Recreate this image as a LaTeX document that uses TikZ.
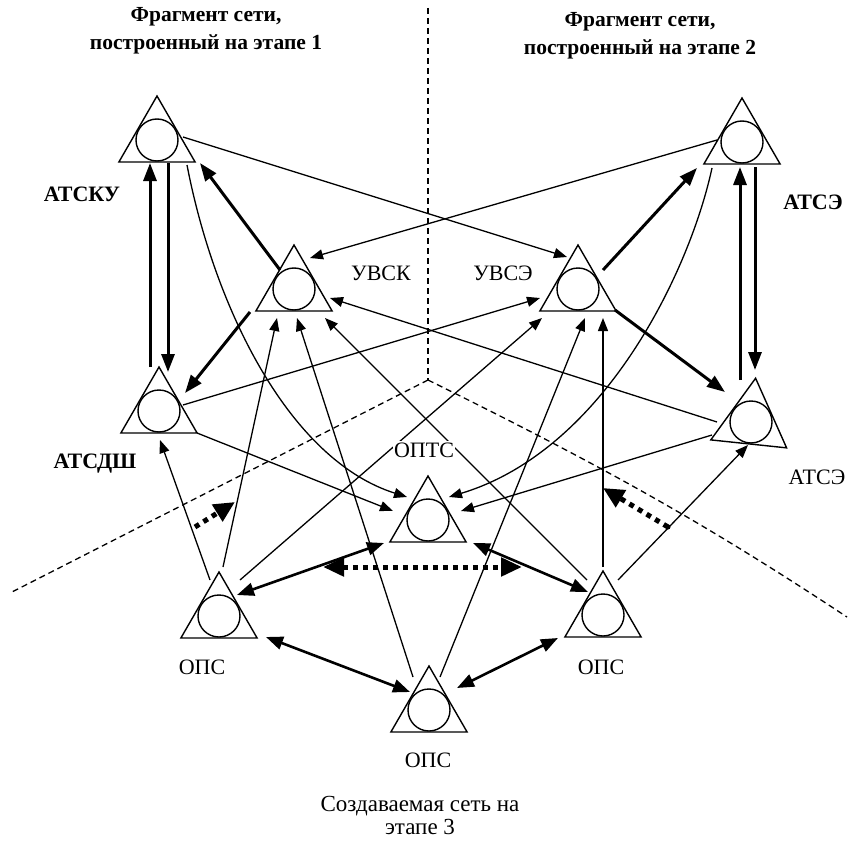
\documentclass[tikz,border=0pt]{standalone}
\usepackage{fontspec}
\setmainfont{Liberation Serif}
\usetikzlibrary{shapes.geometric,arrows.meta,calc}
\begin{document}
\begin{tikzpicture}[x=1pt,y=-1pt,
  station/.style={regular polygon, regular polygon sides=3, minimum size=88pt, inner sep=0pt, outer sep=0pt, draw, line width=1.4pt},
  ring/.style={circle, minimum size=42pt, inner sep=0pt, outer sep=0pt, draw, line width=1.4pt},
  thinarr/.style={line width=1.3pt, -{Triangle[length=13pt,width=10pt]}},
  thickarr/.style={line width=3pt, -{Triangle[length=18pt,width=13pt]}},
  boldtwo/.style={line width=2.6pt, {Triangle[length=17pt,width=13pt]}-{Triangle[length=17pt,width=13pt]}},
  dotarr/.style={line width=5pt, dash pattern=on 5pt off 5pt, -{Triangle[length=21pt,width=19pt]}},
  dottwo/.style={line width=5pt, dash pattern=on 5pt off 5pt, {Triangle[length=21pt,width=18pt]}-{Triangle[length=21pt,width=18pt]}},
  sepline/.style={line width=1.3pt, dash pattern=on 6pt off 4pt},
  lbl/.style={font=\fontsize{22}{26}\selectfont},
  blbl/.style={font=\bfseries\fontsize{22}{26}\selectfont},
  ttl/.style={align=center, font=\bfseries\fontsize{21.5}{28}\selectfont},
]
\useasboundingbox (0,0) rectangle (860,843);
\fill[white] (0,0) rectangle (860,843);

% separators
\coordinate (C) at (428,380);
\coordinate (Ctop) at (428,8);
\coordinate (Cleft) at (10,593);
\coordinate (Cright) at (847,617);
\draw[sepline] (Ctop) -- (C);
\draw[sepline] (C) -- (Cleft);
\draw[sepline] (C) .. controls (600,465) and (700,520) .. (Cright);

% stations
\node[station] (A1) at (157,140) {};
\node[ring] (A1c) at (A1) {};
\node[station] (A2) at (159,411) {};
\node[ring] (A2c) at (A2) {};
\node[station] (U1) at (294,289) {};
\node[ring] (U1c) at (U1) {};
\node[station] (U2) at (578,289) {};
\node[ring] (U2c) at (U2) {};
\node[station] (E1) at (742,142) {};
\node[ring] (E1c) at (E1) {};
\node[station, rotate=-6] (E2) at (751,422) {};
\node[ring] (E2c) at (E2) {};
\node[station] (O) at (428,520) {};
\node[ring] (Oc) at (O) {};
\node[station] (P1) at (219,616) {};
\node[ring] (P1c) at (P1) {};
\node[station] (P2) at (603,615) {};
\node[ring] (P2c) at (P2) {};
\node[station] (P3) at (429,710) {};
\node[ring] (P3c) at (P3) {};

% thick arrows
\draw[thickarr] ($(A2)+(-9,-44)$) -- ($(A1)+(-7,23)$);
\draw[thickarr] ($(A1)+(11,23)$) -- ($(A2)+(9,-39)$);
\draw[thickarr] ($(U1)+(-14,-19)$) -- ($(A1)+(43,23)$);
\draw[thickarr] ($(U1)+(-44,23)$) -- ($(A2)+(26,-18)$);
\draw[thickarr] ($(U2)+(25,-19)$) -- ($(E1)+(-45,26)$);
\draw[thickarr] ($(U2)+(37,21)$) -- ($(E2)+(-26,-30)$);
\draw[thickarr] ($(E2)+(-11,-42)$) -- ($(E1)+(-2,25)$);
\draw[thickarr] ($(E1)+(13,25)$) -- ($(E2)+(4,-52)$);

% bold double arrows
\draw[boldtwo] ($(P1)+(18,-21)$) -- ($(O)+(-44,23)$);
\draw[boldtwo] ($(O)+(45,23)$) -- ($(P2)+(-15,-23)$);
\draw[boldtwo] ($(P1)+(47,21)$) -- ($(P3)+(-19,-18)$);
\draw[boldtwo] ($(P3)+(28,-22)$) -- ($(P2)+(-45,23)$);

% thin arrows
\draw[thinarr] ($(A1)+(26,-3)$) -- ($(U2)+(-11,-32)$);
\draw[thinarr] ($(E1)+(-25,-2)$) -- ($(U1)+(16,-31)$);
\draw[thinarr] ($(E2)+(-34,0)$) -- ($(U1)+(36,9)$);
\draw[thinarr] ($(A2)+(24,-6)$) -- ($(U2)+(-38,9)$);
\draw[thinarr] ($(P1)+(4,-49)$) -- ($(U1)+(-17,29)$);
\draw[thinarr] ($(P3)+(-16,-33)$) -- ($(U1)+(3,29)$);
\draw[thinarr] ($(P2)+(-16,-35)$) -- ($(U1)+(31,29)$);
\draw[thinarr] ($(P1)+(21,-36)$) -- ($(U2)+(-36,29)$);
\draw[thinarr] ($(P3)+(11,-33)$) -- ($(U2)+(7,29)$);
\draw[thinarr] ($(P2)+(0,-48)$) -- ($(U2)+(25,29)$);
\draw[thinarr] ($(A1)+(30,25)$) .. controls ($(A1)+(58,170)$) and ($(O)+(-138,-60)$) .. ($(O)+(-21,-23)$);
\draw[thinarr] ($(A2)+(38,22)$) -- ($(O)+(-35,-9)$);
\draw[thinarr] ($(E1)+(-30,26)$) .. controls ($(E1)+(-52,128)$) and ($(O)+(177,-70)$) .. ($(O)+(21,-23)$);
\draw[thinarr] ($(E2)+(-39,13)$) -- ($(O)+(33,-9)$);
\draw[thinarr] ($(P1)+(-9,-36)$) -- ($(A2)+(1,29)$);
\draw[thinarr] ($(P2)+(15,-35)$) -- ($(E2)+(-3,23)$);

% dotted arrows
\coordinate (dLs) at ($(P1)+(-24,-89)$);
\coordinate (dLe) at ($(P1)+(16,-114)$);
\coordinate (dRs) at ($(P2)+(65,-88)$);
\coordinate (dRe) at ($(P2)+(0,-127)$);
\draw[dotarr] (dLs) -- (dLe);
\draw[dotarr] (dRs) -- (dRe);
\fill (dRs) circle (2.5);
\draw[dottwo] ($(O)+(-105,47)$) -- ($(O)+(94,47)$);

% labels
\node[lbl, fill=white, inner sep=1.5pt] (lOPTS) at (424,450) {ОПТС};
\node[ttl] (lT1) at (206,31) {Фрагмент сети,\\построенный на этапе 1};
\node[ttl] (lT2) at (640,36) {Фрагмент сети,\\построенный на этапе 2};
\node[blbl] (lATSKU) at (82,194) {АТСКУ};
\node[blbl] (lATSDSH) at (95,464) {АТСДШ};
\node[lbl] (lUVSK) at (381,273) {УВСК};
\node[lbl] (lUVSE) at (503,273) {УВСЭ};
\node[blbl] (lATSE1) at (813,202) {АТСЭ};
\node[lbl] (lATSE2) at (817,477) {АТСЭ};
\node[lbl] (lOPS1) at (202,667) {ОПС};
\node[lbl] (lOPS2) at (601,667) {ОПС};
\node[lbl] (lOPS3) at (428,760) {ОПС};
\node (lBottom) at (420,815) [align=center, font=\fontsize{23}{23}\selectfont] {Создаваемая сеть на\\этапе 3};
\end{tikzpicture}
\end{document}
